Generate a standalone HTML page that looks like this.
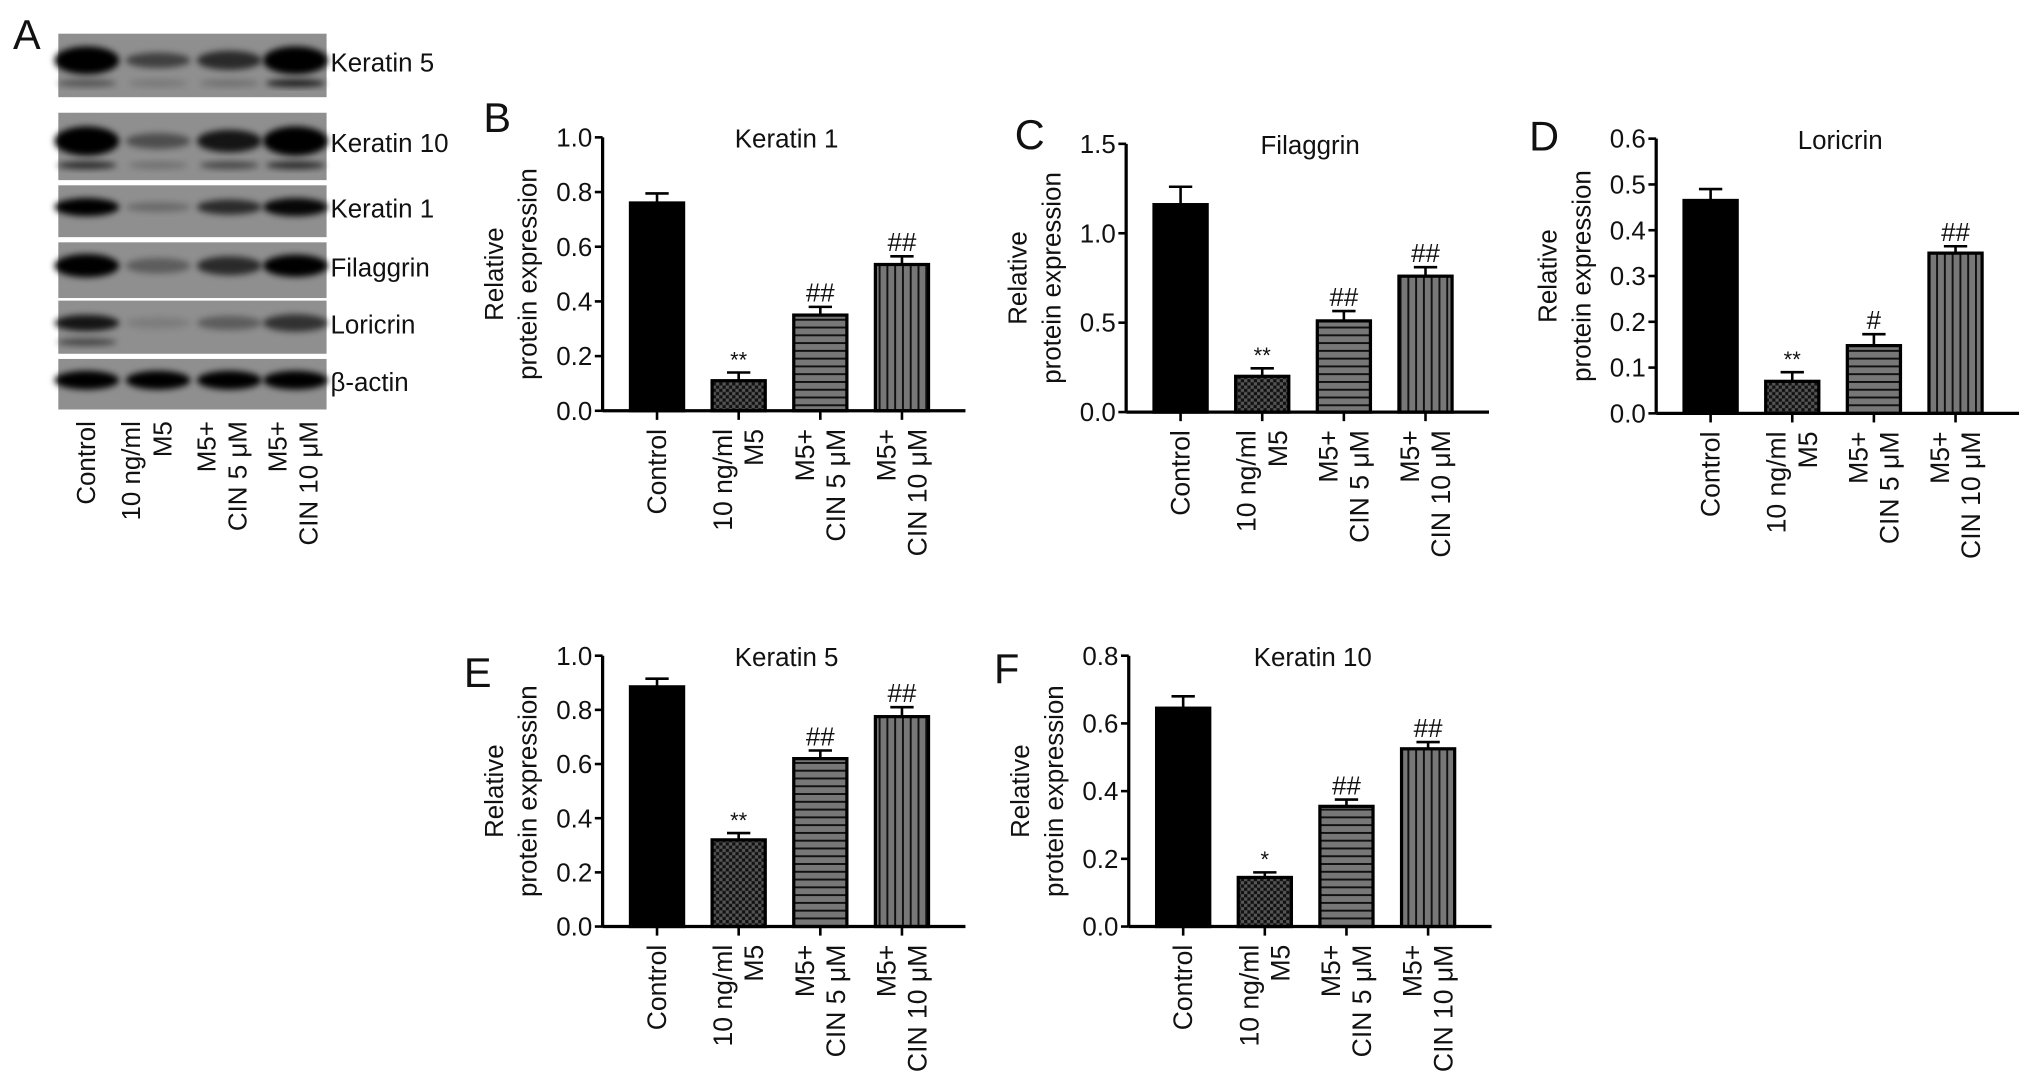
<!DOCTYPE html>
<html><head><meta charset="utf-8"><style>
html,body{margin:0;padding:0;background:#fff;}
svg{display:block;}
text{font-family:"Liberation Sans",Arial,sans-serif;fill:#111;}
</style></head><body>
<svg id="fig" width="2032" height="1088" viewBox="0 0 1568 839.6" preserveAspectRatio="none" xmlns="http://www.w3.org/2000/svg">
<defs>
<pattern id="pCross" width="5" height="5" patternUnits="userSpaceOnUse"><rect width="5" height="5" fill="#555"/><rect width="2.5" height="2.5" fill="#111"/><rect x="2.5" y="2.5" width="2.5" height="2.5" fill="#111"/></pattern>
<pattern id="pHor" width="6" height="6" patternUnits="userSpaceOnUse"><rect width="6" height="6" fill="#777"/><rect width="6" height="1.5" fill="#111"/></pattern>
<pattern id="pVer" width="6" height="6" patternUnits="userSpaceOnUse"><rect width="6" height="6" fill="#777"/><rect width="1.5" height="6" fill="#111"/></pattern>
<filter id="blur" x="-20%" y="-50%" width="140%" height="200%"><feGaussianBlur stdDeviation="2.5"/></filter>
</defs>
<g id="blot"></g>
<g id="charts"></g>
</svg>
<script>
const NS="http://www.w3.org/2000/svg";
const svg=document.getElementById('fig');
function mk(tag,attrs,parent){const e=document.createElementNS(NS,tag);for(const k in attrs)e.setAttribute(k,attrs[k]);(parent||svg).appendChild(e);return e;}
function txt(s,attrs,parent){const e=mk('text',attrs,parent);e.textContent=s;return e;}

// ---------- Panel A: blot ----------
const blot=document.getElementById('blot');
txt('A',{x:10,y:38,'font-size':32},blot);
const blotRows=[
 {name:'Keratin 5',y:26,h:49,bands:[[1,0.8],[0.55,0.3],[0.7,0.45],[1,0.8]],low:[0.4,0.15,0.2,0.8]},
 {name:'Keratin 10',y:87,h:52,bands:[[1,0.8],[0.45,0.3],[0.85,0.55],[1,0.8]],low:[0.7,0.2,0.5,0.7]},
 {name:'Keratin 1',y:143,h:40,bands:[[1,0.5],[0.25,0.1],[0.7,0.35],[0.95,0.5]],low:null},
 {name:'Filaggrin',y:187,h:43,bands:[[1,0.7],[0.35,0.35],[0.7,0.5],[1,0.65]],low:null},
 {name:'Loricrin',y:232,h:41,bands:[[0.85,0.4],[0.12,0.2],[0.35,0.3],[0.65,0.45]],low:[0.5,0,0,0]},
 {name:'β-actin',y:277,h:39,bands:[[1,0.55],[1,0.55],[1,0.55],[1,0.55]],low:null}
];
const laneX=[67,122,177,228];
blotRows.forEach((r,i)=>{
  const g=mk('g',{},blot);
  
  
  mk('rect',{x:45,y:r.y,width:207,height:r.h,fill:'#8f8f8f'},g);
  r.bands.forEach((b,j)=>{
    mk('ellipse',{cx:laneX[j],cy:r.y+r.h*0.42,rx:25,ry:r.h*0.2*b[1]+3,fill:'#050505',opacity:b[0],filter:'url(#blur)'},g);
    if(r.low&&r.low[j]>0)mk('ellipse',{cx:laneX[j],cy:r.y+r.h*0.78,rx:23,ry:3,fill:'#050505',opacity:r.low[j],filter:'url(#blur)'},g);
  });
  const t=txt(r.name,{x:255,y:r.y+r.h*0.45+7,'font-size':20},g);
  
  
});
function lane(lines,cx,ytop,parent,fs){
  const off=lines.length===1?[0]:[-12,12];
  lines.forEach((l,k)=>{
    const x=cx+off[k];
    const t=txt(l,{x:x,y:ytop,'font-size':fs,'text-anchor':'end','dominant-baseline':'central',transform:`rotate(-90 ${x} ${ytop})`},parent);
    
    
  });
}
const catLines=[['Control'],['10 ng/ml','M5'],['M5+','CIN 5 μM'],['M5+','CIN 10 μM']];
catLines.forEach((c,i)=>lane(c,[67,114,172,227][i],325,blot,20));

// ---------- Chart data ----------
const categories=['Control','10 ng/ml M5','M5+CIN 5 μM','M5+CIN 10 μM'];
const k1Values=[0.76,0.11,0.35,0.535];
const k1Errors=[0.035,0.03,0.03,0.03];
const k1Marks=['','**','##','##'];
const filValues=[1.16,0.20,0.51,0.76];
const filErrors=[0.10,0.045,0.055,0.05];
const filMarks=['','**','##','##'];
const lorValues=[0.465,0.07,0.148,0.35];
const lorErrors=[0.025,0.02,0.025,0.015];
const lorMarks=['','**','#','##'];
const k5Values=[0.885,0.32,0.62,0.775];
const k5Errors=[0.03,0.025,0.03,0.035];
const k5Marks=['','**','##','##'];
const k10Values=[0.645,0.145,0.355,0.525];
const k10Errors=[0.035,0.015,0.02,0.02];
const k10Marks=['','*','##','##'];
const k1Ticks=['0.0','0.2','0.4','0.6','0.8','1.0'];
const filTicks=['0.0','0.5','1.0','1.5'];
const lorTicks=['0.0','0.1','0.2','0.3','0.4','0.5','0.6'];
const k5Ticks=['0.0','0.2','0.4','0.6','0.8','1.0'];
const k10Ticks=['0.0','0.2','0.4','0.6','0.8'];

const fills=['#000','url(#pCross)','url(#pHor)','url(#pVer)'];
const charts=document.getElementById('charts');

function chart(o){
  const g=mk('g',{},charts);
  
  
  const ax=o.ax, y0=o.y0, yT=o.yT, ymax=parseFloat(o.ticks[o.ticks.length-1]);
  const axEnd=ax+280;
  const ys=v=>y0-(v/ymax)*(y0-yT);
  const xs=i=>ax+42+i*63;
  const bw=41;
  const L=txt(o.letter,{x:o.lx,y:o.ly,'font-size':32},g);
  
  
  const T=txt(o.title,{x:ax+142,y:yT+8,'font-size':20,'text-anchor':'middle'},g);
  
  
  const ym=(y0+yT)/2;
  const t1=txt('Relative',{x:ax-83,y:ym,'font-size':20,'text-anchor':'middle','dominant-baseline':'central',transform:`rotate(-90 ${ax-83} ${ym})`},g);
  
  
  const t2=txt('protein expression',{x:ax-57,y:ym,'font-size':20,'text-anchor':'middle','dominant-baseline':'central',transform:`rotate(-90 ${ax-57} ${ym})`},g);
  
  
  o.values.forEach((v,i)=>{
    const cx=xs(i), top=ys(v), et=ys(v+o.errors[i]);
    const e=mk('line',{x1:cx,x2:cx,y1:top,y2:et,stroke:'#000','stroke-width':2},g);
    
    
    const c=mk('line',{x1:cx-9,x2:cx+9,y1:et,y2:et,stroke:'#000','stroke-width':2},g);
    
    
    const b=mk('rect',{x:cx-bw/2,y:top,width:bw,height:y0-top,fill:fills[i],stroke:'#000','stroke-width':2.5},g);
    
    
    if(o.marks[i]){
      const m=txt(o.marks[i],{x:cx,y:et-4,'font-size':o.marks[i].includes('#')?20:17,'text-anchor':'middle'},g);
      
      
    }
    const tk=mk('line',{x1:cx,x2:cx,y1:y0,y2:y0+7,stroke:'#000','stroke-width':2},g);
    
    
    lane(catLines[i],cx,y0+14,g,20.5);
  });
  const ya=mk('line',{x1:ax,x2:ax,y1:yT,y2:y0,stroke:'#000','stroke-width':2.5},g);
  
  
  const xa=mk('line',{x1:ax,x2:axEnd,y1:y0,y2:y0,stroke:'#000','stroke-width':2.5},g);
  
  
  o.ticks.forEach(t=>{
    const y=ys(parseFloat(t));
    const l=mk('line',{x1:ax-6,x2:ax,y1:y,y2:y,stroke:'#000','stroke-width':2},g);
    
    
    const tl=txt(t,{x:ax-8,y:y+7,'font-size':20,'text-anchor':'end'},g);
    
    
  });
}
chart({id:'keratin-1',letter:'B',lx:373,ly:102,title:'Keratin 1',ax:465,y0:317,yT:106,ticks:k1Ticks,values:k1Values,errors:k1Errors,marks:k1Marks});
chart({id:'filaggrin',letter:'C',lx:783,ly:115,title:'Filaggrin',ax:869,y0:318,yT:111,ticks:filTicks,values:filValues,errors:filErrors,marks:filMarks});
chart({id:'loricrin',letter:'D',lx:1180,ly:116,title:'Loricrin',ax:1278,y0:319,yT:107,ticks:lorTicks,values:lorValues,errors:lorErrors,marks:lorMarks});
chart({id:'keratin-5',letter:'E',lx:358,ly:530,title:'Keratin 5',ax:465,y0:715,yT:506,ticks:k5Ticks,values:k5Values,errors:k5Errors,marks:k5Marks});
chart({id:'keratin-10',letter:'F',lx:767,ly:527,title:'Keratin 10',ax:871,y0:715,yT:506,ticks:k10Ticks,values:k10Values,errors:k10Errors,marks:k10Marks});
</script>
</body></html>
